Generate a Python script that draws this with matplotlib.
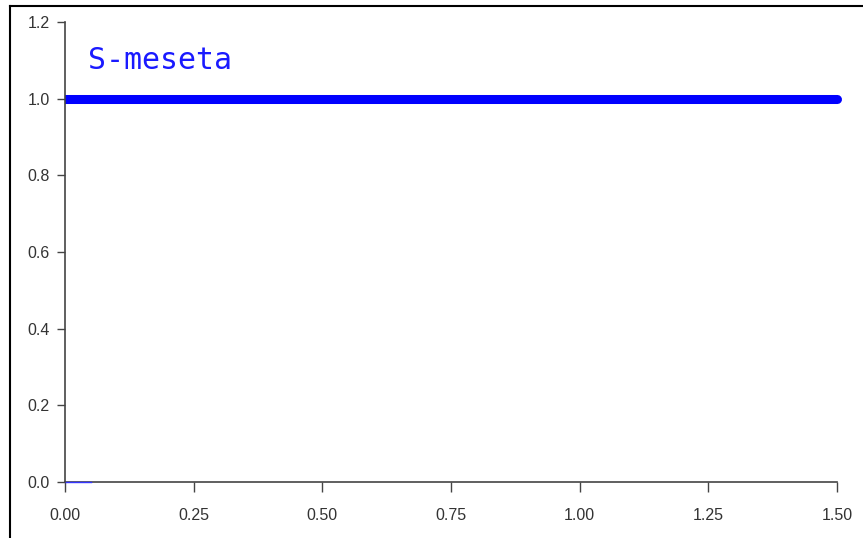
import matplotlib

matplotlib.use("Agg")
import matplotlib.pyplot as plt
from matplotlib.lines import Line2D
from matplotlib.patches import Rectangle

# plateau function S(t) = 1 over the whole range
t_vals = [0.0, 1.5]
s_vals = [1.0, 1.0]
# short baseline stub drawn at the origin
stub_t = [0.0, 0.05]
stub_s = [0.0, 0.0]

xticks = [0.0, 0.25, 0.5, 0.75, 1.0, 1.25, 1.5]
yticks = [0.0, 0.2, 0.4, 0.6, 0.8, 1.0, 1.2]
label = "S-meseta"

W, H = 863, 538
fig = plt.figure(figsize=(W / 100, H / 100), dpi=100)
ax = fig.add_axes([65 / W, 1 - 482 / H, (837 - 65) / W, (482 - 22) / H])

# clip only on the left so the right end keeps its round cap
clip = Rectangle((0, -0.1), 1.1, 1.2, transform=ax.transAxes,
                 facecolor="none", edgecolor="none")
ax.add_patch(clip)
line, = ax.plot(t_vals, s_vals, color="#0000ff", lw=6.5,
                solid_capstyle="round", zorder=3)
line.set_clip_path(clip)
ax.plot(stub_t, stub_s, color="#3333ff", lw=1.0, zorder=4, clip_on=False)

ax.set_xlim(0, 1.5)
ax.set_ylim(0, 1.2)
ax.set_xticks(xticks)
ax.set_xticklabels([f"{v:.2f}" for v in xticks])
ax.set_yticks(yticks)
ax.set_yticklabels([f"{v:.1f}" for v in yticks])

for side in ("top", "right"):
    ax.spines[side].set_visible(False)
for side in ("left", "bottom"):
    ax.spines[side].set_color("#444444")
    ax.spines[side].set_linewidth(1.2)
ax.spines["left"].set_zorder(5)
ax.tick_params(direction="out", width=1.0, color="#444444",
               labelcolor="#333333", labelsize=11.5)
ax.tick_params(axis="x", length=7, pad=12)
ax.tick_params(axis="y", length=6, pad=5)
for lab in ax.get_xticklabels() + ax.get_yticklabels():
    lab.set_family("Liberation Sans")

ax.text(0.045, 1.10, label, color="#1a1aff", fontsize=21.5,
        family="DejaVu Sans Mono", ha="left", va="center")

# cropped screenshot frame: top and left edge only
fig.add_artist(Line2D([10 / W, 1.0], [1 - 6 / H, 1 - 6 / H], color="black", lw=1.5,
                      transform=fig.transFigure))
fig.add_artist(Line2D([10 / W, 10 / W], [0.0, 1 - 6 / H], color="black", lw=1.5,
                      transform=fig.transFigure))

fig.savefig("out.png", dpi=100)
plt.close(fig)
